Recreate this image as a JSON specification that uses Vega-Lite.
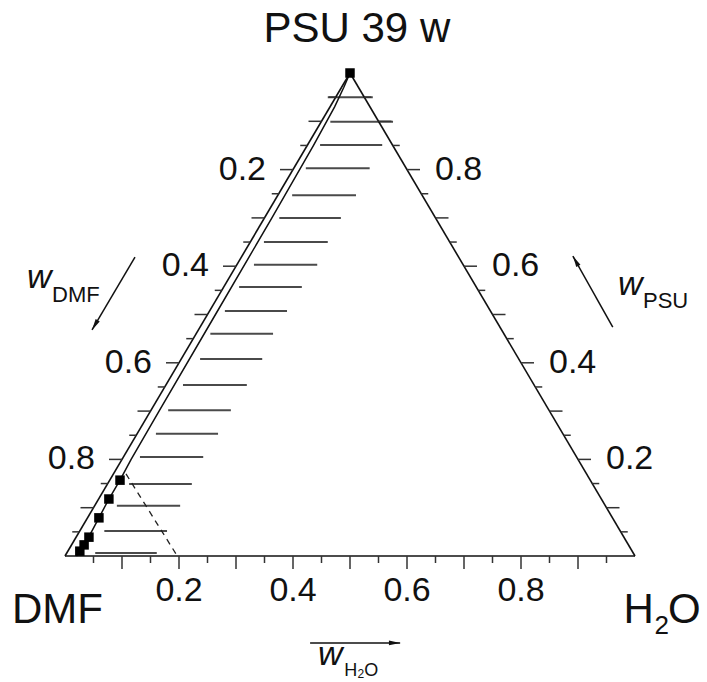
{
  "$schema": "https://vega.github.io/schema/vega-lite/v6.json",
  "width": 570,
  "height": 483,
  "autosize": {"type": "none"},
  "padding": {"left": 65, "top": 73, "right": 72, "bottom": 126},
  "background": "white",
  "config": {"view": {"stroke": null}},
  "datasets": {
    "edges": [
      {"h1": 0, "p1": 0, "h2": 1, "p2": 0},
      {"h1": 1, "p1": 0, "h2": 0, "p2": 1},
      {"h1": 0, "p1": 1, "h2": 0, "p2": 0}
    ],
    "hatch": [
      {"p": 0.950, "a": -0.014, "b": 0.065},
      {"p": 0.899, "a": 0.016, "b": 0.126},
      {"p": 0.851, "a": 0.022, "b": 0.131},
      {"p": 0.803, "a": 0.021, "b": 0.133},
      {"p": 0.747, "a": 0.025, "b": 0.137},
      {"p": 0.700, "a": 0.026, "b": 0.134},
      {"p": 0.650, "a": 0.024, "b": 0.136},
      {"p": 0.603, "a": 0.030, "b": 0.141},
      {"p": 0.557, "a": 0.027, "b": 0.137},
      {"p": 0.507, "a": 0.027, "b": 0.136},
      {"p": 0.460, "a": 0.025, "b": 0.135},
      {"p": 0.408, "a": 0.033, "b": 0.142},
      {"p": 0.354, "a": 0.030, "b": 0.142},
      {"p": 0.302, "a": 0.030, "b": 0.140},
      {"p": 0.253, "a": 0.033, "b": 0.142},
      {"p": 0.205, "a": 0.029, "b": 0.140},
      {"p": 0.149, "a": 0.038, "b": 0.148},
      {"p": 0.104, "a": 0.039, "b": 0.150},
      {"p": 0.052, "a": 0.043, "b": 0.153},
      {"p": 0.006, "a": 0.050, "b": 0.158}
    ],
    "binodal": [
      {"p": 1.0, "h": 0.0},
      {"p": 0.97, "h": 0.004},
      {"p": 0.93, "h": 0.008},
      {"p": 0.85, "h": 0.011},
      {"p": 0.7, "h": 0.013},
      {"p": 0.5, "h": 0.014},
      {"p": 0.3, "h": 0.015},
      {"p": 0.2, "h": 0.016},
      {"p": 0.157, "h": 0.018},
      {"p": 0.118, "h": 0.018},
      {"p": 0.079, "h": 0.020},
      {"p": 0.04, "h": 0.022},
      {"p": 0.02, "h": 0.022},
      {"p": 0.0, "h": 0.020}
    ],
    "points": [
      {"p": 1.0, "h": 0.0},
      {"p": 0.157, "h": 0.018},
      {"p": 0.118, "h": 0.018},
      {"p": 0.079, "h": 0.020},
      {"p": 0.039, "h": 0.0225},
      {"p": 0.023, "h": 0.022},
      {"p": 0.010, "h": 0.021}
    ],
    "ticks": [
      {"s": "L", "v": 0.05}, {"s": "L", "v": 0.1}, {"s": "L", "v": 0.15}, {"s": "L", "v": 0.2}, {"s": "L", "v": 0.25},
      {"s": "L", "v": 0.3}, {"s": "L", "v": 0.35}, {"s": "L", "v": 0.4}, {"s": "L", "v": 0.45}, {"s": "L", "v": 0.5},
      {"s": "L", "v": 0.55}, {"s": "L", "v": 0.6}, {"s": "L", "v": 0.65}, {"s": "L", "v": 0.7}, {"s": "L", "v": 0.75},
      {"s": "L", "v": 0.8}, {"s": "L", "v": 0.85}, {"s": "L", "v": 0.9}, {"s": "L", "v": 0.95},
      {"s": "R", "v": 0.05}, {"s": "R", "v": 0.1}, {"s": "R", "v": 0.15}, {"s": "R", "v": 0.2}, {"s": "R", "v": 0.25},
      {"s": "R", "v": 0.3}, {"s": "R", "v": 0.35}, {"s": "R", "v": 0.4}, {"s": "R", "v": 0.45}, {"s": "R", "v": 0.5},
      {"s": "R", "v": 0.55}, {"s": "R", "v": 0.6}, {"s": "R", "v": 0.65}, {"s": "R", "v": 0.7}, {"s": "R", "v": 0.75},
      {"s": "R", "v": 0.8}, {"s": "R", "v": 0.85}, {"s": "R", "v": 0.9}, {"s": "R", "v": 0.95},
      {"s": "B", "v": 0.05}, {"s": "B", "v": 0.1}, {"s": "B", "v": 0.15}, {"s": "B", "v": 0.2}, {"s": "B", "v": 0.25},
      {"s": "B", "v": 0.3}, {"s": "B", "v": 0.35}, {"s": "B", "v": 0.4}, {"s": "B", "v": 0.45}, {"s": "B", "v": 0.5},
      {"s": "B", "v": 0.55}, {"s": "B", "v": 0.6}, {"s": "B", "v": 0.65}, {"s": "B", "v": 0.7}, {"s": "B", "v": 0.75},
      {"s": "B", "v": 0.8}, {"s": "B", "v": 0.85}, {"s": "B", "v": 0.9}, {"s": "B", "v": 0.95}
    ],
    "labels": [
      {"s": "L", "v": 0.2, "t": "0.2"}, {"s": "L", "v": 0.4, "t": "0.4"}, {"s": "L", "v": 0.6, "t": "0.6"}, {"s": "L", "v": 0.8, "t": "0.8"},
      {"s": "R", "v": 0.2, "t": "0.2"}, {"s": "R", "v": 0.4, "t": "0.4"}, {"s": "R", "v": 0.6, "t": "0.6"}, {"s": "R", "v": 0.8, "t": "0.8"},
      {"s": "B", "v": 0.2, "t": "0.2"}, {"s": "B", "v": 0.4, "t": "0.4"}, {"s": "B", "v": 0.6, "t": "0.6"}, {"s": "B", "v": 0.8, "t": "0.8"}
    ]
  },
  "layer": [
    {
      "data": {"name": "hatch"},
      "transform": [
        {"calculate": "datum.a + datum.p/2", "as": "x"},
        {"calculate": "datum.b + datum.p/2", "as": "x2"},
        {"calculate": "datum.p", "as": "y"}
      ],
      "mark": {"type": "rule", "color": "#4a4a4a", "strokeWidth": 2},
      "encoding": {
        "x": {"field": "x", "type": "quantitative", "scale": {"domain": [0, 1], "nice": false, "zero": false}, "axis": null},
        "x2": {"field": "x2"},
        "y": {"field": "y", "type": "quantitative", "scale": {"domain": [0, 1], "nice": false, "zero": false}, "axis": null},
        "y2": {"field": "y"}
      }
    },
    {
      "data": {"name": "edges"},
      "transform": [
        {"calculate": "datum.h1 + datum.p1/2", "as": "x"},
        {"calculate": "datum.h2 + datum.p2/2", "as": "x2"},
        {"calculate": "datum.p1", "as": "y"},
        {"calculate": "datum.p2", "as": "y2"}
      ],
      "mark": {"type": "rule", "color": "#111", "strokeWidth": 1.6},
      "encoding": {
        "x": {"field": "x", "type": "quantitative", "scale": {"domain": [0, 1], "nice": false, "zero": false}, "axis": null},
        "x2": {"field": "x2"},
        "y": {"field": "y", "type": "quantitative", "scale": {"domain": [0, 1], "nice": false, "zero": false}, "axis": null},
        "y2": {"field": "y2"}
      }
    },
    {
      "data": {"name": "binodal"},
      "transform": [
        {"calculate": "datum.h + datum.p/2", "as": "x"},
        {"calculate": "datum.p", "as": "y"}
      ],
      "mark": {"type": "line", "color": "#111", "strokeWidth": 1.5},
      "encoding": {
        "x": {"field": "x", "type": "quantitative", "scale": {"domain": [0, 1], "nice": false, "zero": false}, "axis": null},
        "y": {"field": "y", "type": "quantitative", "scale": {"domain": [0, 1], "nice": false, "zero": false}, "axis": null},
        "order": {"field": "p"}
      }
    },
    {
      "data": {"values": [{}]},
      "mark": {"type": "rule", "color": "#222", "strokeWidth": 1.3, "strokeDash": [6, 5]},
      "encoding": {
        "x": {"datum": 0.107, "type": "quantitative", "scale": {"domain": [0, 1], "nice": false, "zero": false}, "axis": null},
        "y": {"datum": 0.17, "type": "quantitative", "scale": {"domain": [0, 1], "nice": false, "zero": false}, "axis": null},
        "x2": {"datum": 0.197},
        "y2": {"datum": 0}
      }
    },
    {
      "data": {"name": "ticks"},
      "transform": [
        {"calculate": "datum.s=='L' ? 0 : (datum.s=='R' ? 1-datum.v : datum.v)", "as": "h"},
        {"calculate": "datum.s=='L' ? 1-datum.v : (datum.s=='R' ? datum.v : 0)", "as": "p"},
        {"calculate": "datum.h + datum.p/2", "as": "x"},
        {"calculate": "datum.p", "as": "y"},
        {"calculate": "abs(datum.v*10 - round(datum.v*10)) < 0.001", "as": "major"}
      ],
      "encoding": {
        "x": {"field": "x", "type": "quantitative", "scale": {"domain": [0, 1], "nice": false, "zero": false}, "axis": null},
        "x2": {"field": "x"},
        "y": {"field": "y", "type": "quantitative", "scale": {"domain": [0, 1], "nice": false, "zero": false}, "axis": null},
        "y2": {"field": "y"}
      },
      "layer": [
        {"transform": [{"filter": "datum.s=='L' && datum.major"}], "mark": {"type": "rule", "color": "#333", "strokeWidth": 1.5, "x2Offset": -13}},
        {"transform": [{"filter": "datum.s=='L' && !datum.major"}], "mark": {"type": "rule", "color": "#333", "strokeWidth": 1.5, "x2Offset": -7}},
        {"transform": [{"filter": "datum.s=='R' && datum.major"}], "mark": {"type": "rule", "color": "#333", "strokeWidth": 1.5, "x2Offset": 13}},
        {"transform": [{"filter": "datum.s=='R' && !datum.major"}], "mark": {"type": "rule", "color": "#333", "strokeWidth": 1.5, "x2Offset": 7}},
        {"transform": [{"filter": "datum.s=='B' && datum.major"}], "mark": {"type": "rule", "color": "#333", "strokeWidth": 1.5, "y2Offset": 13}},
        {"transform": [{"filter": "datum.s=='B' && !datum.major"}], "mark": {"type": "rule", "color": "#333", "strokeWidth": 1.5, "y2Offset": 7}}
      ]
    },
    {
      "data": {"name": "labels"},
      "transform": [
        {"calculate": "datum.s=='L' ? 0 : (datum.s=='R' ? 1-datum.v : datum.v)", "as": "h"},
        {"calculate": "datum.s=='L' ? 1-datum.v : (datum.s=='R' ? datum.v : 0)", "as": "p"},
        {"calculate": "datum.h + datum.p/2", "as": "x"},
        {"calculate": "datum.p", "as": "y"}
      ],
      "encoding": {
        "x": {"field": "x", "type": "quantitative", "scale": {"domain": [0, 1], "nice": false, "zero": false}, "axis": null},
        "y": {"field": "y", "type": "quantitative", "scale": {"domain": [0, 1], "nice": false, "zero": false}, "axis": null},
        "text": {"field": "t"}
      },
      "layer": [
        {"transform": [{"filter": "datum.s=='L'"}], "mark": {"type": "text", "font": "Liberation Sans", "fontSize": 34, "color": "#111", "align": "right", "baseline": "middle", "dx": -27}},
        {"transform": [{"filter": "datum.s=='R'"}], "mark": {"type": "text", "font": "Liberation Sans", "fontSize": 34, "color": "#111", "align": "left", "baseline": "middle", "dx": 28}},
        {"transform": [{"filter": "datum.s=='B'"}], "mark": {"type": "text", "font": "Liberation Sans", "fontSize": 34, "color": "#111", "align": "center", "baseline": "middle", "dy": 35}}
      ]
    },
    {
      "data": {"name": "points"},
      "transform": [
        {"calculate": "datum.h + datum.p/2", "as": "x"},
        {"calculate": "datum.p", "as": "y"}
      ],
      "mark": {"type": "point", "shape": "square", "filled": true, "size": 90, "color": "#000", "opacity": 1},
      "encoding": {
        "x": {"field": "x", "type": "quantitative", "scale": {"domain": [0, 1], "nice": false, "zero": false}, "axis": null},
        "y": {"field": "y", "type": "quantitative", "scale": {"domain": [0, 1], "nice": false, "zero": false}, "axis": null}
      }
    },
    {
      "data": {"values": [{}]},
      "encoding": {
        "x": {"datum": 0.5, "type": "quantitative", "scale": {"domain": [0, 1], "nice": false, "zero": false}, "axis": null},
        "y": {"datum": 0.5, "type": "quantitative", "scale": {"domain": [0, 1], "nice": false, "zero": false}, "axis": null}
      },
      "layer": [
        {"mark": {"type": "text", "text": "PSU 39 w", "font": "Liberation Sans", "fontSize": 42, "color": "#111", "align": "center", "baseline": "alphabetic"},
         "encoding": {"x": {"datum": 0.512}, "y": {"datum": 1.064}}},
        {"mark": {"type": "text", "text": "DMF", "font": "Liberation Sans", "fontSize": 42, "color": "#111", "align": "left", "baseline": "alphabetic"},
         "encoding": {"x": {"datum": -0.093}, "y": {"datum": -0.139}}},
        {"mark": {"type": "text", "text": "H", "font": "Liberation Sans", "fontSize": 42, "color": "#111", "align": "left", "baseline": "alphabetic"},
         "encoding": {"x": {"datum": 0.98}, "y": {"datum": -0.139}}},
        {"mark": {"type": "text", "text": "2", "font": "Liberation Sans", "fontSize": 26, "color": "#111", "align": "left", "baseline": "alphabetic"},
         "encoding": {"x": {"datum": 1.034}, "y": {"datum": -0.162}}},
        {"mark": {"type": "text", "text": "O", "font": "Liberation Sans", "fontSize": 42, "color": "#111", "align": "left", "baseline": "alphabetic"},
         "encoding": {"x": {"datum": 1.058}, "y": {"datum": -0.139}}},
        {"mark": {"type": "text", "text": "w", "font": "Liberation Sans", "fontStyle": "italic", "fontSize": 34, "color": "#111", "align": "left", "baseline": "alphabetic"},
         "encoding": {"x": {"datum": -0.0667}, "y": {"datum": 0.555}}},
        {"mark": {"type": "text", "text": "DMF", "font": "Liberation Sans", "fontSize": 22, "color": "#111", "align": "left", "baseline": "alphabetic"},
         "encoding": {"x": {"datum": -0.0228}, "y": {"datum": 0.526}}},
        {"mark": {"type": "text", "text": "w", "font": "Liberation Sans", "fontStyle": "italic", "fontSize": 34, "color": "#111", "align": "left", "baseline": "alphabetic"},
         "encoding": {"x": {"datum": 0.970}, "y": {"datum": 0.540}}},
        {"mark": {"type": "text", "text": "PSU", "font": "Liberation Sans", "fontSize": 22, "color": "#111", "align": "left", "baseline": "alphabetic"},
         "encoding": {"x": {"datum": 1.014}, "y": {"datum": 0.513}}},
        {"mark": {"type": "text", "text": "w", "font": "Liberation Sans", "fontStyle": "italic", "fontSize": 34, "color": "#111", "align": "left", "baseline": "alphabetic"},
         "encoding": {"x": {"datum": 0.444}, "y": {"datum": -0.2257}}},
        {"mark": {"type": "text", "text": "H", "font": "Liberation Sans", "fontSize": 18, "color": "#111", "align": "left", "baseline": "alphabetic"},
         "encoding": {"x": {"datum": 0.49}, "y": {"datum": -0.2484}}},
        {"mark": {"type": "text", "text": "2", "font": "Liberation Sans", "fontSize": 12, "color": "#111", "align": "left", "baseline": "alphabetic"},
         "encoding": {"x": {"datum": 0.513}, "y": {"datum": -0.2526}}},
        {"mark": {"type": "text", "text": "O", "font": "Liberation Sans", "fontSize": 18, "color": "#111", "align": "left", "baseline": "alphabetic"},
         "encoding": {"x": {"datum": 0.525}, "y": {"datum": -0.2484}}},
        {"mark": {"type": "rule", "color": "#111", "strokeWidth": 1.5},
         "encoding": {"x": {"datum": 0.1228}, "y": {"datum": 0.619}, "x2": {"datum": 0.0474}, "y2": {"datum": 0.468}}},
        {"mark": {"type": "rule", "color": "#111", "strokeWidth": 1.5},
         "encoding": {"x": {"datum": 0.961}, "y": {"datum": 0.474}, "x2": {"datum": 0.891}, "y2": {"datum": 0.621}}},
        {"mark": {"type": "rule", "color": "#111", "strokeWidth": 1.5},
         "encoding": {"x": {"datum": 0.43}, "y": {"datum": -0.18}, "x2": {"datum": 0.588}, "y2": {"datum": -0.18}}},
        {"mark": {"type": "point", "shape": "M0,0L0.3,1.4L-0.3,1.4Z", "filled": true, "size": 256, "color": "#111", "opacity": 1, "angle": 210.5},
         "encoding": {"x": {"datum": 0.0474}, "y": {"datum": 0.468}}},
        {"mark": {"type": "point", "shape": "M0,0L0.3,1.4L-0.3,1.4Z", "filled": true, "size": 256, "color": "#111", "opacity": 1, "angle": 330.6},
         "encoding": {"x": {"datum": 0.891}, "y": {"datum": 0.621}}},
        {"mark": {"type": "point", "shape": "M0,0L0.3,1.4L-0.3,1.4Z", "filled": true, "size": 256, "color": "#111", "opacity": 1, "angle": 90},
         "encoding": {"x": {"datum": 0.588}, "y": {"datum": -0.18}}}
      ]
    }
  ]
}
